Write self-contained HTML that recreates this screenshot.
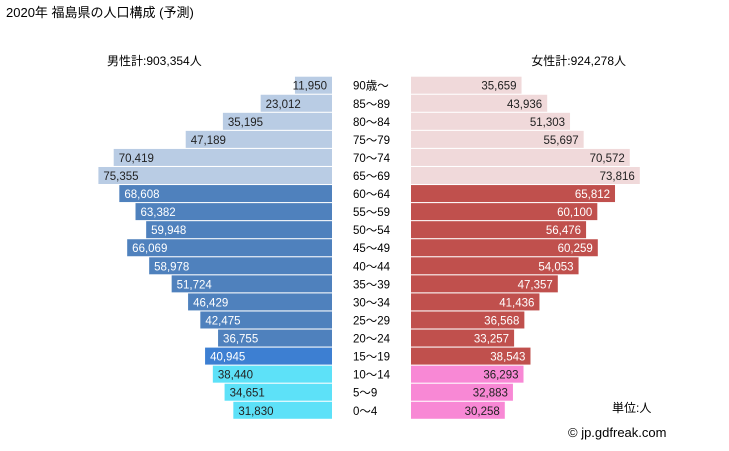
<!DOCTYPE html>
<html><head><meta charset="utf-8"><style>
body{margin:0;background:#fff;width:729px;height:446px;overflow:hidden;font-family:"Liberation Sans","Noto Sans CJK JP",sans-serif;}
svg text{font-family:"Liberation Sans","Noto Sans CJK JP",sans-serif;}
</style></head><body>
<svg id="c" width="729" height="446">
<text x="6" y="17" font-size="13" fill="#000">2020年 福島県の人口構成 (予測)</text>
<text x="107" y="65" font-size="12" fill="#000">男性計:903,354人</text>
<text x="626" y="65" font-size="12" fill="#000" text-anchor="end">女性計:924,278人</text>
<text x="612" y="412" font-size="12" fill="#000">単位:人</text>
<text x="568" y="437" font-size="13" fill="#000">© jp.gdfreak.com</text>
<g id="bars"></g>
</svg>
<script>
const ages=["90歳～","85～89","80～84","75～79","70～74","65～69","60～64","55～59","50～54","45～49","40～44","35～39","30～34","25～29","20～24","15～19","10～14","5～9","0～4"];
const male=[11950,23012,35195,47189,70419,75355,68608,63382,59948,66069,58978,51724,46429,42475,36755,40945,38440,34651,31830];
const female=[35659,43936,51303,55697,70572,73816,65812,60100,56476,60259,54053,47357,41436,36568,33257,38543,36293,32883,30258];
const NS="http://www.w3.org/2000/svg";
const g=document.getElementById('bars');
const scale=v=>v*0.0031;
const rowY=i=>76.7+i*18.06;
const MR=332,FL=411;
function mk(t,a){const e=document.createElementNS(NS,t);for(const k in a)e.setAttribute(k,a[k]);g.appendChild(e);return e;}
function colors(i){
 if(i<6)return ["#b9cce4","#f0d9da","#222","#222"];
 if(i<15)return ["#4f81bd","#c0504d","#fff","#fff"];
 if(i==15)return ["#3d7fd2","#c0504d","#fff","#fff"];
 return ["#5de1f8","#f888d5","#222","#222"];
}
ages.forEach((a,i)=>{
 const y=rowY(i),h=17,c=colors(i);
 const mw=scale(male[i]),fw=scale(female[i]);
 const mb=mk('rect',{x:MR-mw,y:y,width:mw,height:h,fill:c[0]});
 
 
 const fb=mk('rect',{x:FL,y:y,width:fw,height:h,fill:c[1]});
 
 
 const short=mw<60;
 const mt=mk('text',{x:short?MR-5:MR-mw+5,y:y+13,'font-size':11.5,fill:c[2],'text-anchor':short?'end':'start'});
 mt.textContent=male[i].toLocaleString('en-US');
 
 
 const ft=mk('text',{x:FL+fw-5,y:y+13,'font-size':11.5,fill:c[3],'text-anchor':'end'});
 ft.textContent=female[i].toLocaleString('en-US');
 
 
 const at=mk('text',{x:353,y:y+13,'font-size':11.5,fill:'#000'});
 at.textContent=a;
 
 
});
</script>
</body></html>
